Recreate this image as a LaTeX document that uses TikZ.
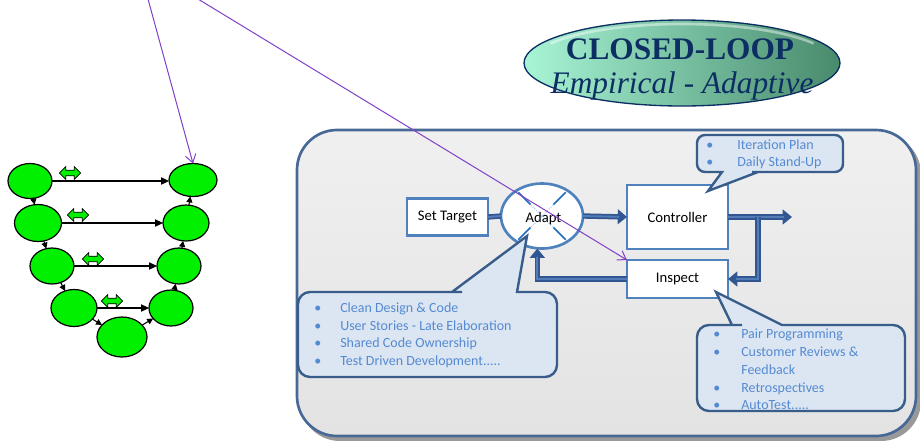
\documentclass[tikz,border=0pt]{standalone}
\usepackage{fontspec}
\setmainfont{Carlito}
\newfontfamily\titlefont{Liberation Serif}
\usetikzlibrary{arrows.meta,shapes.arrows,shapes.geometric,calc}

\definecolor{vgreen}{RGB}{0,240,0}
\definecolor{boxblue}{RGB}{79,129,189}
\definecolor{flowblue}{RGB}{50,86,145}
\definecolor{flowmid}{RGB}{84,124,182}
\definecolor{panelline}{RGB}{72,104,150}
\definecolor{callfill}{RGB}{220,230,242}
\definecolor{callline}{RGB}{56,93,138}
\definecolor{calltext}{RGB}{84,138,210}
\definecolor{purp}{RGB}{128,64,200}
\definecolor{navy}{RGB}{12,46,98}
\definecolor{mintL}{RGB}{168,245,214}
\definecolor{tealR}{RGB}{72,138,108}
\definecolor{xblue}{RGB}{30,110,190}
\definecolor{xfaint}{RGB}{170,205,235}

% one drawing unit in points
\def\pxu{0.75pt}

\begin{document}
\begin{tikzpicture}[x=0.75pt, y=-0.75pt,
  vnode/.style={ellipse, draw=black, line width=0.9pt, fill=vgreen, inner sep=0pt, outer sep=0pt},
  hline/.style={draw=black, line width=0.8pt, -{Triangle[length=6pt,width=5.5pt]}},
  vstep/.style={draw=black, line width=0.8pt, -{Triangle[length=4.5pt,width=4.5pt]}},
  xchg/.style={double arrow, draw=black, line width=0.6pt, fill=vgreen, minimum height=16pt,
    minimum width=9.5pt, double arrow head extend=2.2pt, inner sep=1.4pt},
  blockbox/.style={draw=boxblue, line width=2pt, fill=white, inner sep=0pt, outer sep=0pt,
    font=\fontsize{11}{13}\selectfont},
  flow/.style={draw=flowblue, line width=4pt, -{Triangle[length=7pt,width=11pt]},
    postaction={draw=flowmid, line width=1.4pt, -, shorten >=6pt}},
  flowbar/.style={draw=flowblue, line width=4pt, postaction={draw=flowmid, line width=1.4pt}},
  callout/.style={fill=callfill, draw=callline, line width=1.8pt},
  calltxt/.style={anchor=base west, inner sep=0pt, text=calltext, font=\fontsize{10.5}{12}\selectfont},
  purpline/.style={draw=purp, line width=0.75pt, -{Straight Barb[length=6pt,width=8pt]}},
  titletxt/.style={anchor=base, inner sep=0pt, text=navy},
]
\useasboundingbox (0,0) rectangle (920,440);

% ---------- panel ----------
\fill[black!40, rounded corners=30pt] (300,134) rectangle (921,441);
\draw[panelline, top color=black!6, bottom color=black!11, line width=2pt, rounded corners=30pt]
  (297,130) rectangle (916,436);

% ---------- title oval ----------
\node[ellipse, draw=navy, line width=1pt, left color=mintL, right color=tealR,
      minimum width=316*\pxu, minimum height=86*\pxu] (title) at (682,63) {};
\draw[white, opacity=0.45, line width=2pt] (550.4,43.5) arc[start angle=-150, end angle=-30, x radius=152, y radius=39];
\node[titletxt, font=\titlefont\bfseries\fontsize{23.5}{28}\selectfont] (titleA) at (680,59) {CLOSED-LOOP};
\node[titletxt, font=\titlefont\itshape\fontsize{23.5}{28}\selectfont] (titleB) at (682,93) {Empirical - Adaptive};

% ---------- V diagram ----------
\node[vnode, minimum width=44*\pxu, minimum height=35*\pxu] (e1) at (30,181) {};
\node[vnode, minimum width=47*\pxu, minimum height=37*\pxu] (e2) at (38,223) {};
\node[vnode, minimum width=44*\pxu, minimum height=36*\pxu] (e3) at (52,266) {};
\node[vnode, minimum width=46*\pxu, minimum height=37*\pxu] (e4) at (74,308) {};
\node[vnode, minimum width=50*\pxu, minimum height=40*\pxu] (e5) at (122,337) {};
\node[vnode, minimum width=48*\pxu, minimum height=33*\pxu] (r1) at (193,180) {};
\node[vnode, minimum width=46*\pxu, minimum height=36*\pxu] (r2) at (186,223) {};
\node[vnode, minimum width=44*\pxu, minimum height=36*\pxu] (r3) at (179,266) {};
\node[vnode, minimum width=44*\pxu, minimum height=36*\pxu] (r4) at (171,308) {};

\draw[hline] (e1.east) -- (e1.east -| r1.west);
\draw[hline] (e2.east) -- (e2.east -| r2.west);
\draw[hline] (e3.east) -- (e3.east -| r3.west);
\draw[hline] (e4.east) -- (e4.east -| r4.west);

\draw[vstep] (e1) -- (e2);
\draw[vstep] (e2) -- (e3);
\draw[vstep] (e3) -- (e4);
\draw[vstep] (e4) -- (e5);
\draw[vstep] (e5) -- (r4);
\draw[vstep] (r4) -- (r3);
\draw[vstep] (r3) -- (r2);
\draw[vstep] (r2) -- (r1);

\node[xchg] (x1) at (70,173) {};
\node[xchg] (x2) at (78,215) {};
\node[xchg] (x3) at (93,259) {};
\node[xchg] (x4) at (112,301) {};

% ---------- control loop ----------
\node[blockbox, minimum width=81*\pxu, minimum height=37*\pxu] (target) at (447.5,217) {Set Target};
\node[blockbox, minimum width=101*\pxu, minimum height=64*\pxu] (ctrl) at (677.5,217) {Controller};
\node[blockbox, minimum width=101*\pxu, minimum height=38*\pxu] (insp) at (677.5,279) {Inspect};
\node[ellipse, draw=boxblue, line width=2pt, fill=white, inner sep=0pt, outer sep=0pt,
      minimum width=82*\pxu, minimum height=65*\pxu] (adapt) at (542,216) {};

% summing-junction cross
\foreach \a in {45,135,225,315}{
  \draw[xfaint, line width=0.8pt, densely dotted] (adapt.center) -- ($(adapt.center)!0.42!(adapt.\a)$);
  \draw[xblue, line width=1.2pt] ($(adapt.center)!0.45!(adapt.\a)$) -- ($(adapt.center)!0.93!(adapt.\a)$);
}
\node[inner sep=0pt, font=\fontsize{11}{13}\selectfont] (adaptlbl) at (543.5,219) {Adapt};

\coordinate (out) at (792,217);
\coordinate (branch) at (758,217);
\draw[flowbar] (target.east) -- (adapt.west);
\draw[flow] (adapt.east) -- (ctrl.west);
\draw[flow] (ctrl.east) -- (out);
\draw[flow] (branch) |- (insp.east);
\draw[flow] (insp.west) -| ([xshift=-3.5pt]adapt.south);

% ---------- callouts ----------
\path[callout] (697,150) [rounded corners=6pt] -- (697,135) -- (843,135) -- (843,172) -- (760,172)
  [sharp corners] -- (758,172) -- (708,191) -- (722,172) -- (720,172)
  [rounded corners=6pt] -- (697,172) -- cycle;
\node[calltxt] (ca1) at (706,149.5) {\makebox[23.25pt][l]{\textbullet}Iteration Plan};
\node[calltxt] (ca2) at (706,166.5) {\makebox[23.25pt][l]{\textbullet}Daily Stand-Up};

\path[callout] (298,330) [rounded corners=9pt] -- (298,292) -- (450,292)
  [sharp corners] -- (452,292) -- (527,236) -- (517,292) -- (519,292)
  [rounded corners=9pt] -- (557,292) -- (557,377) -- (298,377) -- cycle;
\node[calltxt] (cb1) at (314,312.5) {\makebox[19.5pt][l]{\textbullet}Clean Design \& Code};
\node[calltxt] (cb2) at (314,330) {\makebox[19.5pt][l]{\textbullet}User Stories - Late Elaboration};
\node[calltxt] (cb3) at (314,347.5) {\makebox[19.5pt][l]{\textbullet}Shared Code Ownership};
\node[calltxt] (cb4) at (314,365) {\makebox[19.5pt][l]{\textbullet}Test Driven Development.....};

\path[callout] (697,370) [rounded corners=9pt] -- (697,325) -- (730,325)
  [sharp corners] -- (732,325) -- (716,292) -- (782,325) -- (784,325)
  [rounded corners=9pt] -- (905,325) -- (905,411) -- (697,411) -- cycle;
\node[calltxt] (cc1) at (713,338) {\makebox[21pt][l]{\textbullet}Pair Programming};
\node[calltxt] (cc2) at (713,356) {\makebox[21pt][l]{\textbullet}Customer Reviews \&};
\node[calltxt] (cc3) at (713,374) {\makebox[21pt][l]{}Feedback};
\node[calltxt] (cc4) at (713,392) {\makebox[21pt][l]{\textbullet}Retrospectives};
\node[calltxt] (cc5) at (713,409) {\makebox[21pt][l]{\textbullet}AutoTest.....};

% ---------- pointers from above ----------
\coordinate (p1) at (148,-1);
\coordinate (p2) at (198,-1);
\draw[purpline] (p1) -- (r1.north);
\draw[purpline] (p2) -- (insp.north west);
\end{tikzpicture}
\end{document}
